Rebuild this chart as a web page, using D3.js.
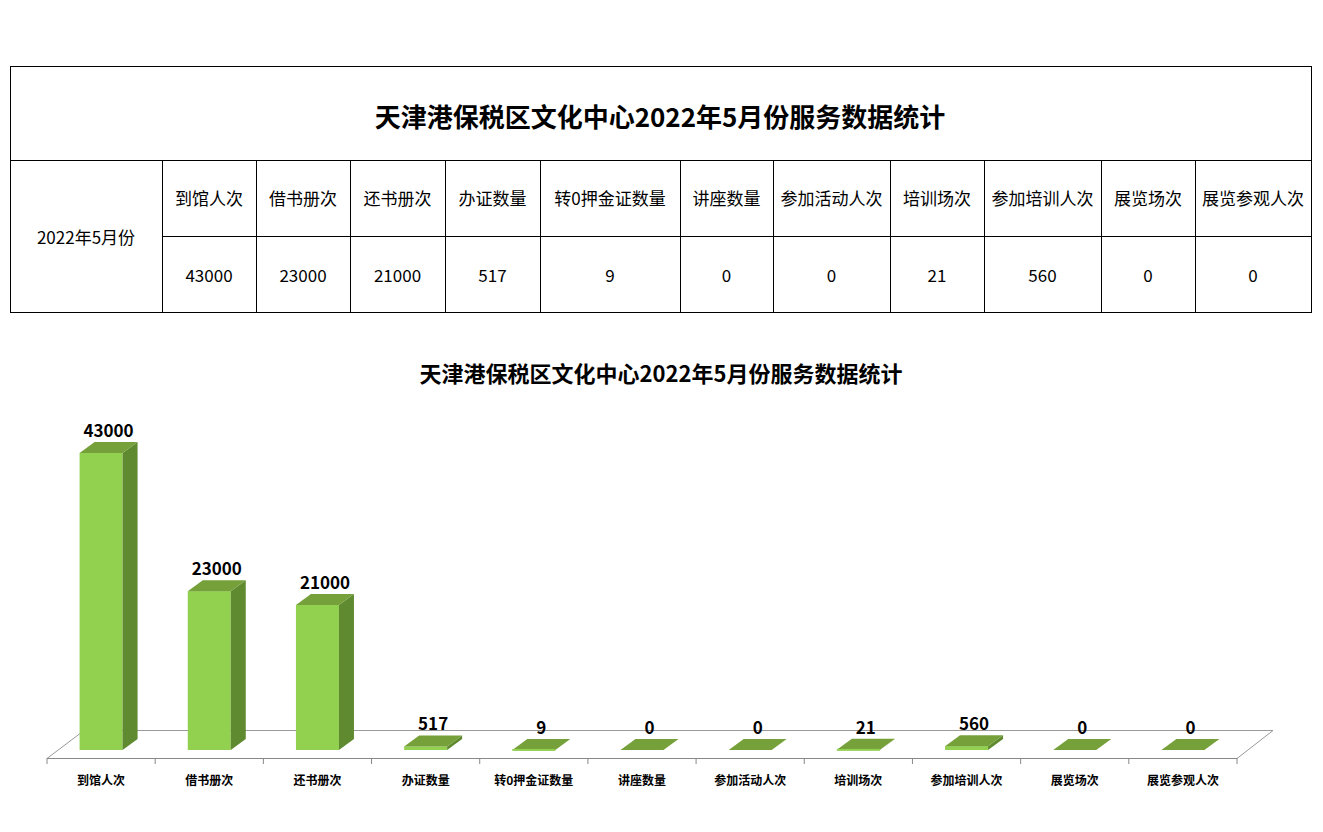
<!DOCTYPE html><html><head><meta charset="utf-8"><script src="https://cdn.jsdelivr.net/npm/d3@7"></script>
<style>body{margin:0;background:#fff;font-family:"Noto Sans CJK SC","Noto Sans",sans-serif}</style></head><body><svg id="c" width="1323" height="832"></svg><script>
const title="天津港保税区文化中心2022年5月份服务数据统计";
const rowLabel="2022年5月份";
const categories=["到馆人次","借书册次","还书册次","办证数量","转0押金证数量","讲座数量","参加活动人次","培训场次","参加培训人次","展览场次","展览参观人次"];
const values=[43000,23000,21000,517,9,0,0,21,560,0,0];
const colEdges=[162,256,350,445,540,680,773,890,984,1101,1195,1311];

const svg=d3.select("#c");
const F='"Noto Sans CJK SC",sans-serif';
// table
const T=svg.append("g").attr("stroke","#000").attr("fill","none").attr("stroke-width",1);
T.append("rect").attr("x",10.5).attr("y",66.5).attr("width",1301).attr("height",246);
T.append("line").attr("x1",10).attr("x2",1311).attr("y1",160.5).attr("y2",160.5);
T.append("line").attr("x1",162).attr("x2",1311).attr("y1",236.5).attr("y2",236.5);
colEdges.slice(0,-1).forEach(x=>T.append("line").attr("x1",x+.5).attr("x2",x+.5).attr("y1",160).attr("y2",312));
svg.append("text").attr("x",660).attr("y",127).attr("text-anchor","middle").attr("font-family",F).attr("font-weight","bold").attr("font-size",26).text(title);
svg.append("text").attr("x",86).attr("y",244).attr("text-anchor","middle").attr("font-family",F).attr("font-size",17).text(rowLabel);
categories.forEach((c,i)=>{const cx=(colEdges[i]+colEdges[i+1])/2;
 svg.append("text").attr("x",cx).attr("y",205).attr("text-anchor","middle").attr("font-family",F).attr("font-size",17).text(c);
 svg.append("text").attr("x",cx).attr("y",282).attr("text-anchor","middle").attr("font-family",F).attr("font-size",17).text(values[i]);});
// chart
svg.append("text").attr("x",661).attr("y",382).attr("text-anchor","middle").attr("font-family",F).attr("font-weight","bold").attr("font-size",22).text(title);
const x=d3.scaleBand().domain(categories).range([47,1237]);
const y=d3.scaleLinear().domain([0,43000]).range([750,453]);
const dx=15,dy=-11,bw=43;
const fl=svg.append("g").attr("stroke","#999").attr("fill","none");
fl.append("path").attr("d","M47,758.5 L84,730.5 L1273,730.5 L1237,758.5");
fl.append("line").attr("x1",47).attr("x2",1237).attr("y1",758.5).attr("y2",758.5).attr("stroke","#888");
d3.range(12).forEach(i=>{const xx=47+i*x.bandwidth();fl.append("line").attr("x1",xx).attr("x2",xx).attr("y1",758).attr("y2",764).attr("stroke","#888");});
categories.forEach((c,i)=>{
 const x0=x(c)+(x.bandwidth()-bw)/2, x1=x0+bw, yb=750, yt=y(values[i]);
 const g=svg.append("g");
 g.append("rect").attr("x",x0).attr("y",yt).attr("width",bw).attr("height",yb-yt).attr("fill","#92D050");
 g.append("path").attr("d",`M${x1},${yt}L${x1+dx},${yt+dy}L${x1+dx},${yb+dy}L${x1},${yb}Z`).attr("fill","#5F8A30");
 g.append("path").attr("d",`M${x0},${yt}L${x0+dx},${yt+dy}L${x1+dx},${yt+dy}L${x1},${yt}Z`).attr("fill","#76A03A");
 if(values[i]>0&&yb-yt<3) g.append("rect").attr("x",x0).attr("y",yt-1).attr("width",bw).attr("height",2).attr("fill","#92D050");
 svg.append("text").attr("x",x0+bw/2+dx/2).attr("y",yt+dy-5).attr("text-anchor","middle").attr("font-family",F).attr("font-weight","bold").attr("font-size",17).text(values[i]);
 svg.append("text").attr("x",x(c)+x.bandwidth()/2).attr("y",785).attr("text-anchor","middle").attr("font-family",F).attr("font-weight","bold").attr("font-size",12).text(c);
});
</script></body></html>
